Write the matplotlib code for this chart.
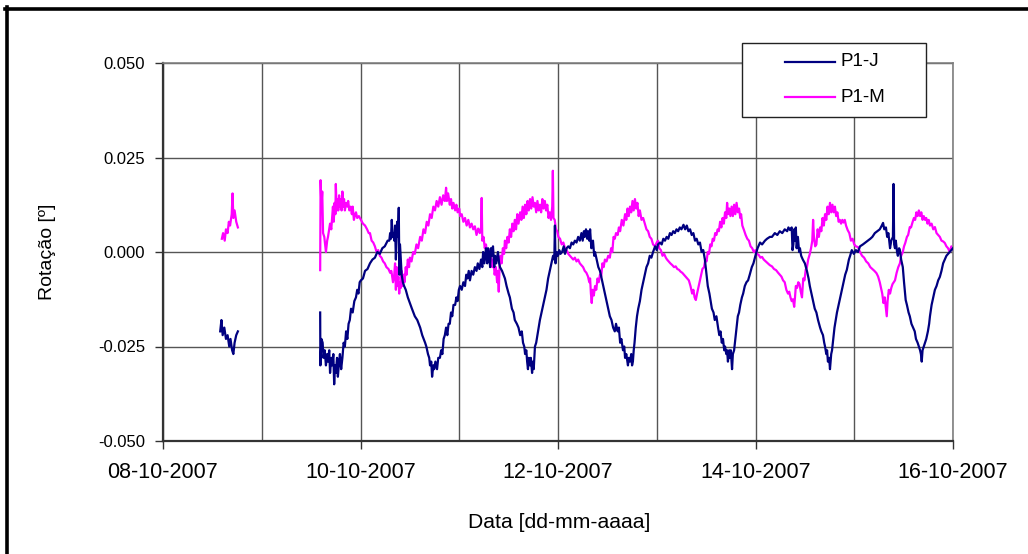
import datetime as dt
import numpy as np
import matplotlib
matplotlib.use("Agg")
import matplotlib.pyplot as plt
import matplotlib.dates as mdates
from matplotlib.lines import Line2D
from matplotlib.patches import Rectangle
from matplotlib.ticker import FuncFormatter

plt.rcParams['font.family'] = ['Liberation Sans', 'DejaVu Sans']

start = dt.datetime(2007, 10, 8)

# (hours since 08-10-2007 00:00, rotation [deg])
pj_first = [(13.9, -0.021), (14.2, -0.018), (14.5, -0.022), (14.9, -0.020), (15.3, -0.023),
            (15.7, -0.022), (16.1, -0.025), (16.4, -0.023), (16.8, -0.026), (17.1, -0.027),
            (17.4, -0.024), (17.8, -0.022), (18.2, -0.021)]
pj_main = [
    (38.2, -0.016), (38.25, -0.030), (38.5, -0.023), (38.8, -0.024), (39.0, -0.028), (39.3, -0.026),
    (39.6, -0.030), (39.9, -0.027), (40.1, -0.029), (40.4, -0.026), (40.6, -0.032), (40.9, -0.028),
    (41.1, -0.030), (41.4, -0.027), (41.6, -0.035), (41.8, -0.030), (42.0, -0.032), (42.3, -0.028),
    (42.5, -0.033), (42.8, -0.029), (43.0, -0.027), (43.3, -0.031), (43.6, -0.028), (43.9, -0.024),
    (44.2, -0.025), (44.5, -0.021), (44.8, -0.023), (45.1, -0.019), (45.4, -0.018), (45.7, -0.015),
    (46.1, -0.016), (46.5, -0.013), (46.9, -0.012), (47.2, -0.010), (47.5, -0.011), (47.8, -0.008),
    (48.1, -0.0075), (48.6, -0.007), (49.1, -0.005), (49.7, -0.0045), (50.3, -0.003), (50.9, -0.002),
    (51.5, -0.0015), (52.1, 0.000), (52.7, -0.0005), (53.3, 0.001), (53.9, 0.0015), (54.6, 0.003),
    (55.0, 0.003), (55.2, 0.005), (55.4, 0.0035), (55.6, 0.0085), (55.8, 0.004), (56.0, 0.005),
    (56.2, 0.003), (56.4, 0.007), (56.6, -0.002), (56.9, 0.008), (57.1, 0.004), (57.3, 0.0117),
    (57.45, -0.006), (57.6, 0.002), (57.8, -0.002), (58.0, -0.006), (58.3, -0.008), (58.6, -0.009),
    (59.0, -0.010), (59.5, -0.012), (60.0, -0.0135), (60.5, -0.015), (61.2, -0.017), (61.8, -0.018),
    (62.5, -0.020), (63.0, -0.022), (63.7, -0.024), (64.0, -0.025), (64.4, -0.027), (64.7, -0.028),
    (64.9, -0.030), (65.2, -0.029), (65.4, -0.033), (65.7, -0.030), (65.9, -0.031), (66.2, -0.029),
    (66.6, -0.031), (66.9, -0.028), (67.3, -0.028), (67.6, -0.026), (67.9, -0.027), (68.2, -0.023),
    (68.5, -0.022), (68.8, -0.020), (69.1, -0.022), (69.4, -0.019), (69.7, -0.019), (70.0, -0.016),
    (70.3, -0.017), (70.6, -0.014), (71.0, -0.014), (71.3, -0.012), (71.6, -0.013), (71.9, -0.010),
    (72.2, -0.009), (72.6, -0.010), (73.0, -0.008), (73.4, -0.009), (73.7, -0.006), (74.0, -0.007),
    (74.3, -0.005), (74.6, -0.0075), (75.0, -0.005), (75.4, -0.006), (75.8, -0.004), (76.2, -0.005),
    (76.5, -0.003), (76.9, -0.0045), (77.3, -0.002), (77.6, -0.004), (77.8, 0.000), (78.1, -0.003),
    (78.5, 0.001), (78.8, -0.003), (79.0, 0.001), (79.3, -0.001), (79.5, -0.004), (79.7, 0.001),
    (79.9, -0.001), (80.2, 0.0015), (80.5, -0.004), (80.7, -0.001), (81.0, -0.003), (81.4, 0.000),
    (81.7, -0.003), (81.9, -0.004), (82.4, -0.005), (83.1, -0.007), (83.5, -0.009), (84.0, -0.011),
    (84.3, -0.012), (84.8, -0.015), (85.2, -0.016), (85.5, -0.018), (86.0, -0.019), (86.4, -0.020),
    (86.8, -0.022), (87.2, -0.021), (87.5, -0.024), (87.8, -0.025), (88.0, -0.027), (88.3, -0.026),
    (88.5, -0.029), (88.7, -0.031), (88.9, -0.028), (89.2, -0.030), (89.4, -0.028), (89.7, -0.032),
    (89.9, -0.029), (90.1, -0.031), (90.4, -0.025), (90.7, -0.024), (91.0, -0.022), (91.3, -0.020),
    (91.6, -0.018), (92.0, -0.016), (92.4, -0.014), (92.8, -0.012), (93.2, -0.010), (93.6, -0.007),
    (94.0, -0.005), (94.4, -0.003), (94.8, -0.001), (95.1, -0.002), (95.25, 0.007), (95.4, -0.003),
    (95.7, 0.000), (96.0, -0.001), (96.3, 0.0005), (96.6, -0.0005), (97.0, 0.000), (97.4, 0.0015),
    (97.7, -0.0005), (98.1, 0.001), (98.5, 0.0015), (98.9, 0.001), (99.3, 0.0025), (99.7, 0.002),
    (100.1, 0.003), (100.5, 0.0025), (100.9, 0.004), (101.3, 0.003), (101.7, 0.005), (102.0, 0.003),
    (102.3, 0.0055), (102.5, 0.004), (102.8, 0.006), (103.1, 0.0035), (103.3, 0.0055), (103.6, 0.003),
    (103.8, 0.006), (104.1, 0.001), (104.5, 0.003), (104.8, -0.001), (105.0, 0.000), (105.4, -0.002),
    (105.8, -0.004), (106.2, -0.005), (106.6, -0.007), (107.0, -0.009), (107.4, -0.011), (107.8, -0.013),
    (108.2, -0.015), (108.6, -0.017), (109.0, -0.018), (109.4, -0.020), (109.8, -0.021), (110.1, -0.019),
    (110.5, -0.021), (110.8, -0.020), (111.1, -0.024), (111.4, -0.023), (111.8, -0.026), (112.1, -0.025),
    (112.3, -0.028), (112.6, -0.027), (113.0, -0.030), (113.2, -0.028), (113.5, -0.029), (113.8, -0.027),
    (114.0, -0.030), (114.2, -0.029), (114.4, -0.026), (114.6, -0.024), (114.9, -0.020), (115.2, -0.017),
    (115.5, -0.015), (115.9, -0.013), (116.3, -0.010), (116.7, -0.008), (117.1, -0.006), (117.5, -0.004),
    (117.9, -0.003), (118.3, -0.001), (118.7, -0.0015), (119.1, 0.000), (119.6, 0.0015), (120.0, 0.0005),
    (120.3, 0.002), (120.8, 0.0025), (121.2, 0.002), (121.6, 0.0035), (122.0, 0.003), (122.4, 0.004),
    (122.8, 0.0035), (123.2, 0.005), (123.6, 0.0045), (124.0, 0.0055), (124.4, 0.005), (124.8, 0.006),
    (125.2, 0.0055), (125.6, 0.0065), (126.0, 0.006), (126.5, 0.0072), (126.9, 0.006), (127.3, 0.007),
    (127.7, 0.0055), (128.1, 0.006), (128.5, 0.0045), (128.9, 0.005), (129.3, 0.003), (129.7, 0.0035),
    (130.1, 0.002), (130.5, 0.0025), (130.9, 0.000), (131.3, 0.0005), (131.7, -0.002), (132.0, -0.005),
    (132.4, -0.009), (132.8, -0.011), (133.1, -0.013), (133.4, -0.015), (133.8, -0.016), (134.1, -0.018),
    (134.5, -0.017), (134.9, -0.020), (135.2, -0.022), (135.5, -0.021), (135.8, -0.024), (136.1, -0.023),
    (136.4, -0.026), (136.6, -0.025), (136.9, -0.027), (137.1, -0.026), (137.3, -0.029), (137.6, -0.026),
    (137.8, -0.028), (138.0, -0.026), (138.3, -0.031), (138.5, -0.027), (138.8, -0.026), (139.0, -0.024),
    (139.3, -0.021), (139.7, -0.017), (140.0, -0.016), (140.3, -0.014), (140.7, -0.012), (141.0, -0.011),
    (141.4, -0.009), (141.8, -0.008), (142.2, -0.0075), (142.6, -0.006), (143.1, -0.004), (143.5, -0.003),
    (144.1, -0.0005), (144.5, 0.001), (145.1, 0.0025), (145.6, 0.002), (146.3, 0.003), (146.8, 0.0035),
    (147.5, 0.004), (148.0, 0.004), (148.7, 0.005), (149.3, 0.0045), (149.9, 0.0055), (150.5, 0.005),
    (151.1, 0.006), (151.7, 0.0055), (152.0, 0.0065), (152.4, 0.0058), (152.8, 0.0065), (153.0, 0.0005),
    (153.2, 0.002), (153.4, 0.006), (153.6, 0.003), (153.8, 0.0065), (154.0, 0.001), (154.3, 0.004),
    (154.6, 0.000), (154.8, 0.001), (155.1, -0.001), (155.5, -0.002), (156.0, -0.003), (156.5, -0.005),
    (156.9, -0.007), (157.2, -0.009), (157.6, -0.011), (158.0, -0.013), (158.4, -0.015), (158.8, -0.016),
    (159.2, -0.018), (159.7, -0.020), (160.0, -0.021), (160.4, -0.022), (160.7, -0.024), (160.9, -0.025),
    (161.2, -0.027), (161.4, -0.026), (161.6, -0.029), (161.9, -0.028), (162.1, -0.031), (162.4, -0.027),
    (162.6, -0.026), (162.8, -0.024), (163.2, -0.020), (163.5, -0.018), (163.8, -0.016), (164.2, -0.014),
    (164.6, -0.012), (165.0, -0.010), (165.4, -0.008), (165.8, -0.006), (166.2, -0.0047), (166.7, -0.002),
    (167.0, -0.001), (167.4, 0.0005), (167.9, -0.0005), (168.4, 0.0005), (168.9, 0.000), (169.4, 0.0015),
    (170.1, 0.002), (170.7, 0.0025), (171.3, 0.003), (171.9, 0.0035), (172.4, 0.004), (173.0, 0.005),
    (173.6, 0.0055), (174.2, 0.006), (174.7, 0.007), (175.0, 0.0077), (175.3, 0.006), (175.7, 0.0065),
    (176.0, 0.004), (176.3, 0.005), (176.7, 0.001), (177.0, 0.003), (177.4, 0.004), (177.55, 0.018),
    (177.7, 0.002), (177.9, 0.001), (178.1, 0.003), (178.4, 0.000), (178.6, -0.001), (178.9, 0.001),
    (179.1, 0.0005), (179.4, -0.002), (179.8, -0.004), (180.1, -0.008), (180.5, -0.0127), (180.8, -0.014),
    (181.2, -0.016), (181.5, -0.017), (181.9, -0.019), (182.3, -0.020), (182.7, -0.021), (183.0, -0.023),
    (183.4, -0.024), (183.7, -0.025), (184.0, -0.026), (184.2, -0.027), (184.4, -0.029), (184.6, -0.026),
    (184.9, -0.025), (185.2, -0.024), (185.5, -0.023), (185.9, -0.021), (186.2, -0.019), (186.4, -0.017),
    (186.8, -0.014), (187.2, -0.012), (187.6, -0.010), (188.0, -0.009), (188.4, -0.0075), (188.8, -0.0066),
    (189.2, -0.005), (189.6, -0.003), (190.0, -0.002), (190.4, -0.001), (190.8, -0.0005), (191.2, 0.000),
    (191.6, 0.0005), (192.0, 0.001)]

pm_first = [(14.3, 0.0035), (14.6, 0.005), (15.0, 0.003), (15.3, 0.006), (15.7, 0.005),
            (16.0, 0.008), (16.3, 0.007), (16.7, 0.010), (16.9, 0.0155), (17.1, 0.009),
            (17.4, 0.011), (17.8, 0.008), (18.2, 0.0065)]
pm_main = [
    (38.2, -0.0048), (38.3, 0.019), (38.5, 0.012), (38.7, 0.016), (38.9, 0.005), (39.2, 0.004),
    (39.6, 0.000), (39.9, 0.003), (40.1, 0.004), (40.4, 0.006), (40.6, 0.0075), (40.9, 0.006),
    (41.1, 0.009), (41.3, 0.012), (41.5, 0.008), (41.7, 0.013), (41.9, 0.010), (42.0, 0.018),
    (42.2, 0.011), (42.4, 0.014), (42.6, 0.011), (42.8, 0.015), (43.0, 0.012), (43.2, 0.014),
    (43.4, 0.011), (43.6, 0.016), (43.8, 0.012), (44.0, 0.014), (44.2, 0.011), (44.5, 0.013),
    (44.8, 0.012), (45.0, 0.0135), (45.3, 0.011), (45.6, 0.012), (45.9, 0.010), (46.1, 0.012),
    (46.4, 0.0085), (46.6, 0.0095), (46.9, 0.0105), (47.2, 0.009), (47.6, 0.0095), (48.1, 0.0085),
    (48.6, 0.0075), (49.1, 0.007), (49.6, 0.006), (50.0, 0.005), (50.3, 0.005), (50.7, 0.003),
    (51.1, 0.0025), (51.5, 0.0015), (51.9, 0.000), (52.3, 0.0005), (52.7, -0.001), (53.1, -0.0015),
    (53.5, -0.0025), (53.9, -0.003), (54.3, -0.004), (54.8, -0.0045), (55.2, -0.0055), (55.5, -0.005),
    (55.9, -0.008), (56.2, -0.006), (56.4, -0.003), (56.6, -0.010), (56.8, -0.004), (57.0, -0.009),
    (57.2, -0.0065), (57.4, -0.011), (57.6, -0.008), (57.8, -0.0095), (58.0, -0.005), (58.2, -0.009),
    (58.5, -0.006), (58.7, -0.008), (59.0, -0.004), (59.2, -0.006), (59.5, -0.002), (59.8, -0.004),
    (60.0, -0.0015), (60.4, -0.0025), (60.8, 0.000), (61.2, -0.0005), (61.6, 0.002), (62.0, 0.001),
    (62.5, 0.004), (62.9, 0.003), (63.3, 0.006), (63.7, 0.005), (64.1, 0.008), (64.5, 0.007),
    (64.9, 0.010), (65.3, 0.009), (65.7, 0.012), (66.1, 0.011), (66.5, 0.0135), (66.9, 0.012),
    (67.3, 0.0145), (67.7, 0.0125), (68.1, 0.015), (68.5, 0.0135), (68.8, 0.017), (69.0, 0.0135),
    (69.3, 0.0155), (69.7, 0.0125), (70.0, 0.014), (70.3, 0.0115), (70.6, 0.013), (71.0, 0.011),
    (71.3, 0.0125), (71.6, 0.0105), (72.0, 0.0115), (72.2, 0.0095), (72.6, 0.010), (73.0, 0.008),
    (73.4, 0.009), (73.8, 0.007), (74.2, 0.0085), (74.6, 0.0065), (75.0, 0.0075), (75.4, 0.006),
    (75.8, 0.0068), (76.2, 0.0045), (76.6, 0.0062), (77.0, 0.005), (77.3, 0.0065), (77.45, 0.0143),
    (77.6, 0.003), (77.9, 0.004), (78.2, 0.001), (78.5, 0.002), (78.8, -0.001), (79.1, 0.0005),
    (79.4, -0.002), (79.7, -0.001), (80.0, -0.004), (80.3, -0.002), (80.6, -0.006), (80.9, -0.004),
    (81.2, -0.008), (81.4, -0.005), (81.6, -0.0105), (81.8, -0.004), (82.0, -0.001), (82.3, -0.003),
    (82.6, 0.001), (82.9, -0.0005), (83.1, 0.003), (83.4, 0.001), (83.7, 0.004), (84.0, 0.0025),
    (84.3, 0.006), (84.6, 0.004), (84.9, 0.0075), (85.2, 0.0055), (85.5, 0.0085), (85.8, 0.006),
    (86.1, 0.010), (86.4, 0.0075), (86.8, 0.0105), (87.1, 0.0085), (87.4, 0.012), (87.7, 0.009),
    (88.0, 0.0125), (88.3, 0.010), (88.6, 0.0135), (88.9, 0.011), (89.2, 0.014), (89.5, 0.0115),
    (89.8, 0.0145), (90.1, 0.012), (90.4, 0.013), (90.7, 0.0105), (91.0, 0.0135), (91.3, 0.011),
    (91.6, 0.0125), (91.9, 0.0105), (92.2, 0.014), (92.5, 0.0115), (92.8, 0.0135), (93.1, 0.011),
    (93.4, 0.0125), (93.7, 0.009), (94.0, 0.0105), (94.3, 0.0085), (94.6, 0.012), (94.75, 0.0215),
    (94.9, 0.009), (95.2, 0.0085), (95.5, 0.006), (95.8, 0.0055), (96.1, 0.004), (96.5, 0.0035),
    (96.9, 0.002), (97.3, 0.0025), (97.7, 0.001), (98.1, 0.0005), (98.5, -0.0005), (98.9, -0.001),
    (99.3, -0.0015), (99.7, -0.002), (100.1, -0.0015), (100.5, -0.0025), (100.9, -0.002), (101.3, -0.003),
    (101.7, -0.0035), (102.1, -0.004), (102.5, -0.005), (102.9, -0.0055), (103.3, -0.0065), (103.6, -0.008),
    (103.8, -0.007), (104.0, -0.011), (104.2, -0.0135), (104.4, -0.010), (104.7, -0.0115), (105.0, -0.009),
    (105.3, -0.010), (105.6, -0.007), (105.9, -0.008), (106.2, -0.006), (106.5, -0.0065), (106.8, -0.003),
    (107.1, -0.004), (107.4, -0.002), (107.8, -0.0025), (108.2, -0.001), (108.6, -0.0015), (108.9, 0.001),
    (109.2, 0.000), (109.5, 0.004), (109.8, 0.0035), (110.1, 0.005), (110.5, 0.0045), (110.8, 0.0065),
    (111.1, 0.0055), (111.5, 0.0085), (111.9, 0.007), (112.3, 0.010), (112.6, 0.0085), (112.9, 0.0115),
    (113.2, 0.0095), (113.5, 0.012), (113.8, 0.0105), (114.1, 0.0135), (114.4, 0.011), (114.7, 0.014),
    (115.0, 0.0115), (115.3, 0.013), (115.6, 0.0095), (115.9, 0.011), (116.3, 0.0085), (116.7, 0.009),
    (117.1, 0.0075), (117.5, 0.006), (117.9, 0.0055), (118.3, 0.004), (118.7, 0.0035), (119.1, 0.002),
    (119.6, 0.0015), (120.0, 0.0025), (120.3, 0.003), (120.6, 0.001), (121.0, 0.0005), (121.4, -0.001),
    (121.8, -0.0005), (122.2, -0.0015), (122.5, -0.002), (122.9, -0.0025), (123.3, -0.003), (123.8, -0.0035),
    (124.2, -0.004), (124.6, -0.0038), (125.0, -0.0045), (125.4, -0.0047), (125.8, -0.0052), (126.2, -0.0055),
    (126.6, -0.006), (127.0, -0.0065), (127.4, -0.007), (127.8, -0.0075), (128.2, -0.009), (128.6, -0.011),
    (128.9, -0.010), (129.2, -0.012), (129.5, -0.0127), (129.8, -0.011), (130.2, -0.009), (130.5, -0.0075),
    (130.8, -0.006), (131.1, -0.0045), (131.5, -0.004), (131.8, -0.002), (132.1, -0.0025), (132.4, 0.000),
    (132.7, -0.0005), (133.0, 0.002), (133.3, 0.0015), (133.6, 0.0035), (133.9, 0.003), (134.2, 0.005),
    (134.5, 0.0045), (134.8, 0.006), (135.1, 0.0055), (135.4, 0.008), (135.7, 0.0065), (136.0, 0.009),
    (136.3, 0.0075), (136.6, 0.0105), (136.9, 0.009), (137.1, 0.013), (137.3, 0.010), (137.6, 0.0115),
    (137.9, 0.0095), (138.2, 0.012), (138.5, 0.0095), (138.8, 0.0125), (139.1, 0.010), (139.4, 0.013),
    (139.7, 0.0105), (140.0, 0.0115), (140.3, 0.009), (140.5, 0.010), (140.8, 0.007), (141.2, 0.0058),
    (141.6, 0.0045), (142.0, 0.0035), (142.4, 0.003), (142.8, 0.0015), (143.2, 0.001), (143.6, 0.000),
    (144.0, 0.0005), (144.4, -0.0005), (144.8, -0.0008), (145.2, -0.0015), (145.6, -0.0013), (146.0, -0.002),
    (146.5, -0.0025), (147.0, -0.003), (147.5, -0.0035), (148.0, -0.0038), (148.5, -0.0045), (149.0, -0.0048),
    (149.5, -0.0055), (149.9, -0.006), (150.3, -0.0065), (150.7, -0.0075), (151.1, -0.008), (151.5, -0.010),
    (151.9, -0.011), (152.2, -0.0105), (152.5, -0.012), (152.8, -0.013), (153.1, -0.0125), (153.4, -0.0145),
    (153.6, -0.012), (153.8, -0.009), (154.1, -0.0095), (154.4, -0.008), (154.7, -0.0085), (155.0, -0.0105),
    (155.3, -0.012), (155.6, -0.007), (155.9, -0.0075), (156.2, -0.0047), (156.5, -0.004), (156.8, -0.002),
    (157.2, -0.0005), (157.5, 0.001), (157.8, 0.003), (158.0, 0.0085), (158.2, 0.004), (158.5, 0.0015),
    (158.8, 0.002), (159.1, 0.006), (159.4, 0.004), (159.7, 0.0065), (160.0, 0.0055), (160.3, 0.009),
    (160.6, 0.007), (160.9, 0.010), (161.2, 0.0085), (161.5, 0.012), (161.8, 0.010), (162.1, 0.013),
    (162.4, 0.0105), (162.7, 0.0125), (163.0, 0.0105), (163.3, 0.012), (163.6, 0.0095), (163.9, 0.0105),
    (164.2, 0.008), (164.5, 0.0085), (164.8, 0.0075), (165.1, 0.0085), (165.4, 0.0078), (165.7, 0.0085),
    (166.0, 0.007), (166.4, 0.0058), (166.8, 0.005), (167.2, 0.003), (167.6, 0.0035), (168.0, 0.002),
    (168.4, 0.0015), (168.9, 0.0013), (169.4, 0.000), (169.9, -0.001), (170.4, -0.0015), (170.9, -0.0025),
    (171.4, -0.003), (171.9, -0.004), (172.4, -0.0045), (172.9, -0.005), (173.4, -0.0056), (173.8, -0.0065),
    (174.2, -0.008), (174.5, -0.0095), (174.8, -0.011), (175.1, -0.0135), (175.4, -0.012), (175.7, -0.015),
    (175.9, -0.017), (176.1, -0.013), (176.4, -0.010), (176.7, -0.011), (177.0, -0.0095), (177.3, -0.0085),
    (177.6, -0.008), (177.9, -0.0075), (178.3, -0.0055), (178.7, -0.004), (179.1, -0.003), (179.4, -0.001),
    (179.8, 0.000), (180.1, 0.0015), (180.4, 0.0024), (180.8, 0.004), (181.1, 0.0045), (181.5, 0.0066),
    (181.8, 0.0065), (182.2, 0.008), (182.5, 0.009), (182.8, 0.0085), (183.1, 0.0105), (183.4, 0.0095),
    (183.7, 0.011), (184.0, 0.0095), (184.3, 0.0105), (184.6, 0.0085), (184.9, 0.0095), (185.2, 0.0085),
    (185.5, 0.009), (185.8, 0.0075), (186.1, 0.0085), (186.4, 0.007), (186.8, 0.0075), (187.2, 0.006),
    (187.6, 0.0066), (188.0, 0.005), (188.4, 0.0045), (188.8, 0.004), (189.2, 0.003), (189.6, 0.0028),
    (190.0, 0.0024), (190.4, 0.0015), (190.8, 0.001), (191.2, 0.000), (191.6, 0.0015), (192.0, 0.0005)]


def to_series(first, main):
    # join the two logged stretches, with a break in between
    pts = first + [(28.0, np.nan)] + main
    t = [start + dt.timedelta(hours=h) for h, _ in pts]
    v = [val for _, val in pts]
    return t, v


j_time, j_vals = to_series(pj_first, pj_main)
m_time, m_vals = to_series(pm_first, pm_main)

W, H = 1028, 554
fig = plt.figure(figsize=(W / 100, H / 100), dpi=100)
ax = fig.add_axes([163 / W, 1 - 441 / H, (953 - 163) / W, (441 - 63) / H])

ax.plot(m_time, m_vals, color='#FF00FF', lw=1.6, zorder=2)
ax.plot(j_time, j_vals, color='#000080', lw=1.6, zorder=3)

ax.set_xlim(start, start + dt.timedelta(days=8))
ax.set_ylim(-0.05, 0.05)
ax.set_yticks([-0.05, -0.025, 0.0, 0.025, 0.05])
ax.yaxis.set_major_formatter(FuncFormatter(lambda v, p: f"{v:.3f}"))
ax.xaxis.set_major_locator(mdates.DayLocator(interval=2))
ax.xaxis.set_minor_locator(mdates.DayLocator())
ax.xaxis.set_major_formatter(mdates.DateFormatter('%d-%m-%Y'))

ax.grid(True, which='both', axis='x', color='#555555', lw=1)
ax.grid(True, which='major', axis='y', color='#555555', lw=1)
ax.set_axisbelow(True)
ax.tick_params(axis='both', which='major', direction='out', length=6, width=1,
               color='#333333')
ax.tick_params(axis='x', which='minor', length=0)
ax.tick_params(axis='x', pad=9, labelsize=15.5)
ax.tick_params(axis='y', pad=7, labelsize=12)

for side in ('left', 'bottom'):
    ax.spines[side].set_color('#333333')
    ax.spines[side].set_linewidth(1.6)
for side in ('top', 'right'):
    ax.spines[side].set_color('#808080')
    ax.spines[side].set_linewidth(1.2)

fig.text(48 / W, 1 - 252 / H, 'Rotação [º]', rotation=90, ha='center', va='center',
         fontsize=14)
fig.text(559 / W, 1 - 523 / H, 'Data [dd-mm-aaaa]', ha='center', va='center',
         fontsize=15.2)

# legend box drawn like the spreadsheet one
fig.add_artist(Rectangle((742 / W, 1 - 117 / H), (926 - 742) / W, (117 - 43) / H,
                         transform=fig.transFigure, facecolor='white',
                         edgecolor='#222222', lw=1, zorder=5))
for yy, col, lab in [(62, '#000080', 'P1-J'), (97, '#FF00FF', 'P1-M')]:
    fig.add_artist(Line2D([785 / W, 835 / W], [1 - yy / H, 1 - yy / H],
                          transform=fig.transFigure, color=col, lw=1.6, zorder=6))
    fig.text(840 / W, 1 - yy / H, lab, ha='left', va='center', fontsize=13.5, zorder=6)

# heavy outer frame (top and left)
fig.add_artist(Line2D([5 / W, 1.0], [1 - 8.5 / H, 1 - 8.5 / H],
                      transform=fig.transFigure, color='black', lw=2.6))
fig.add_artist(Line2D([6.5 / W, 6.5 / W], [0.0, 1 - 7 / H],
                      transform=fig.transFigure, color='black', lw=2.6))

fig.savefig('out.png', dpi=100)
